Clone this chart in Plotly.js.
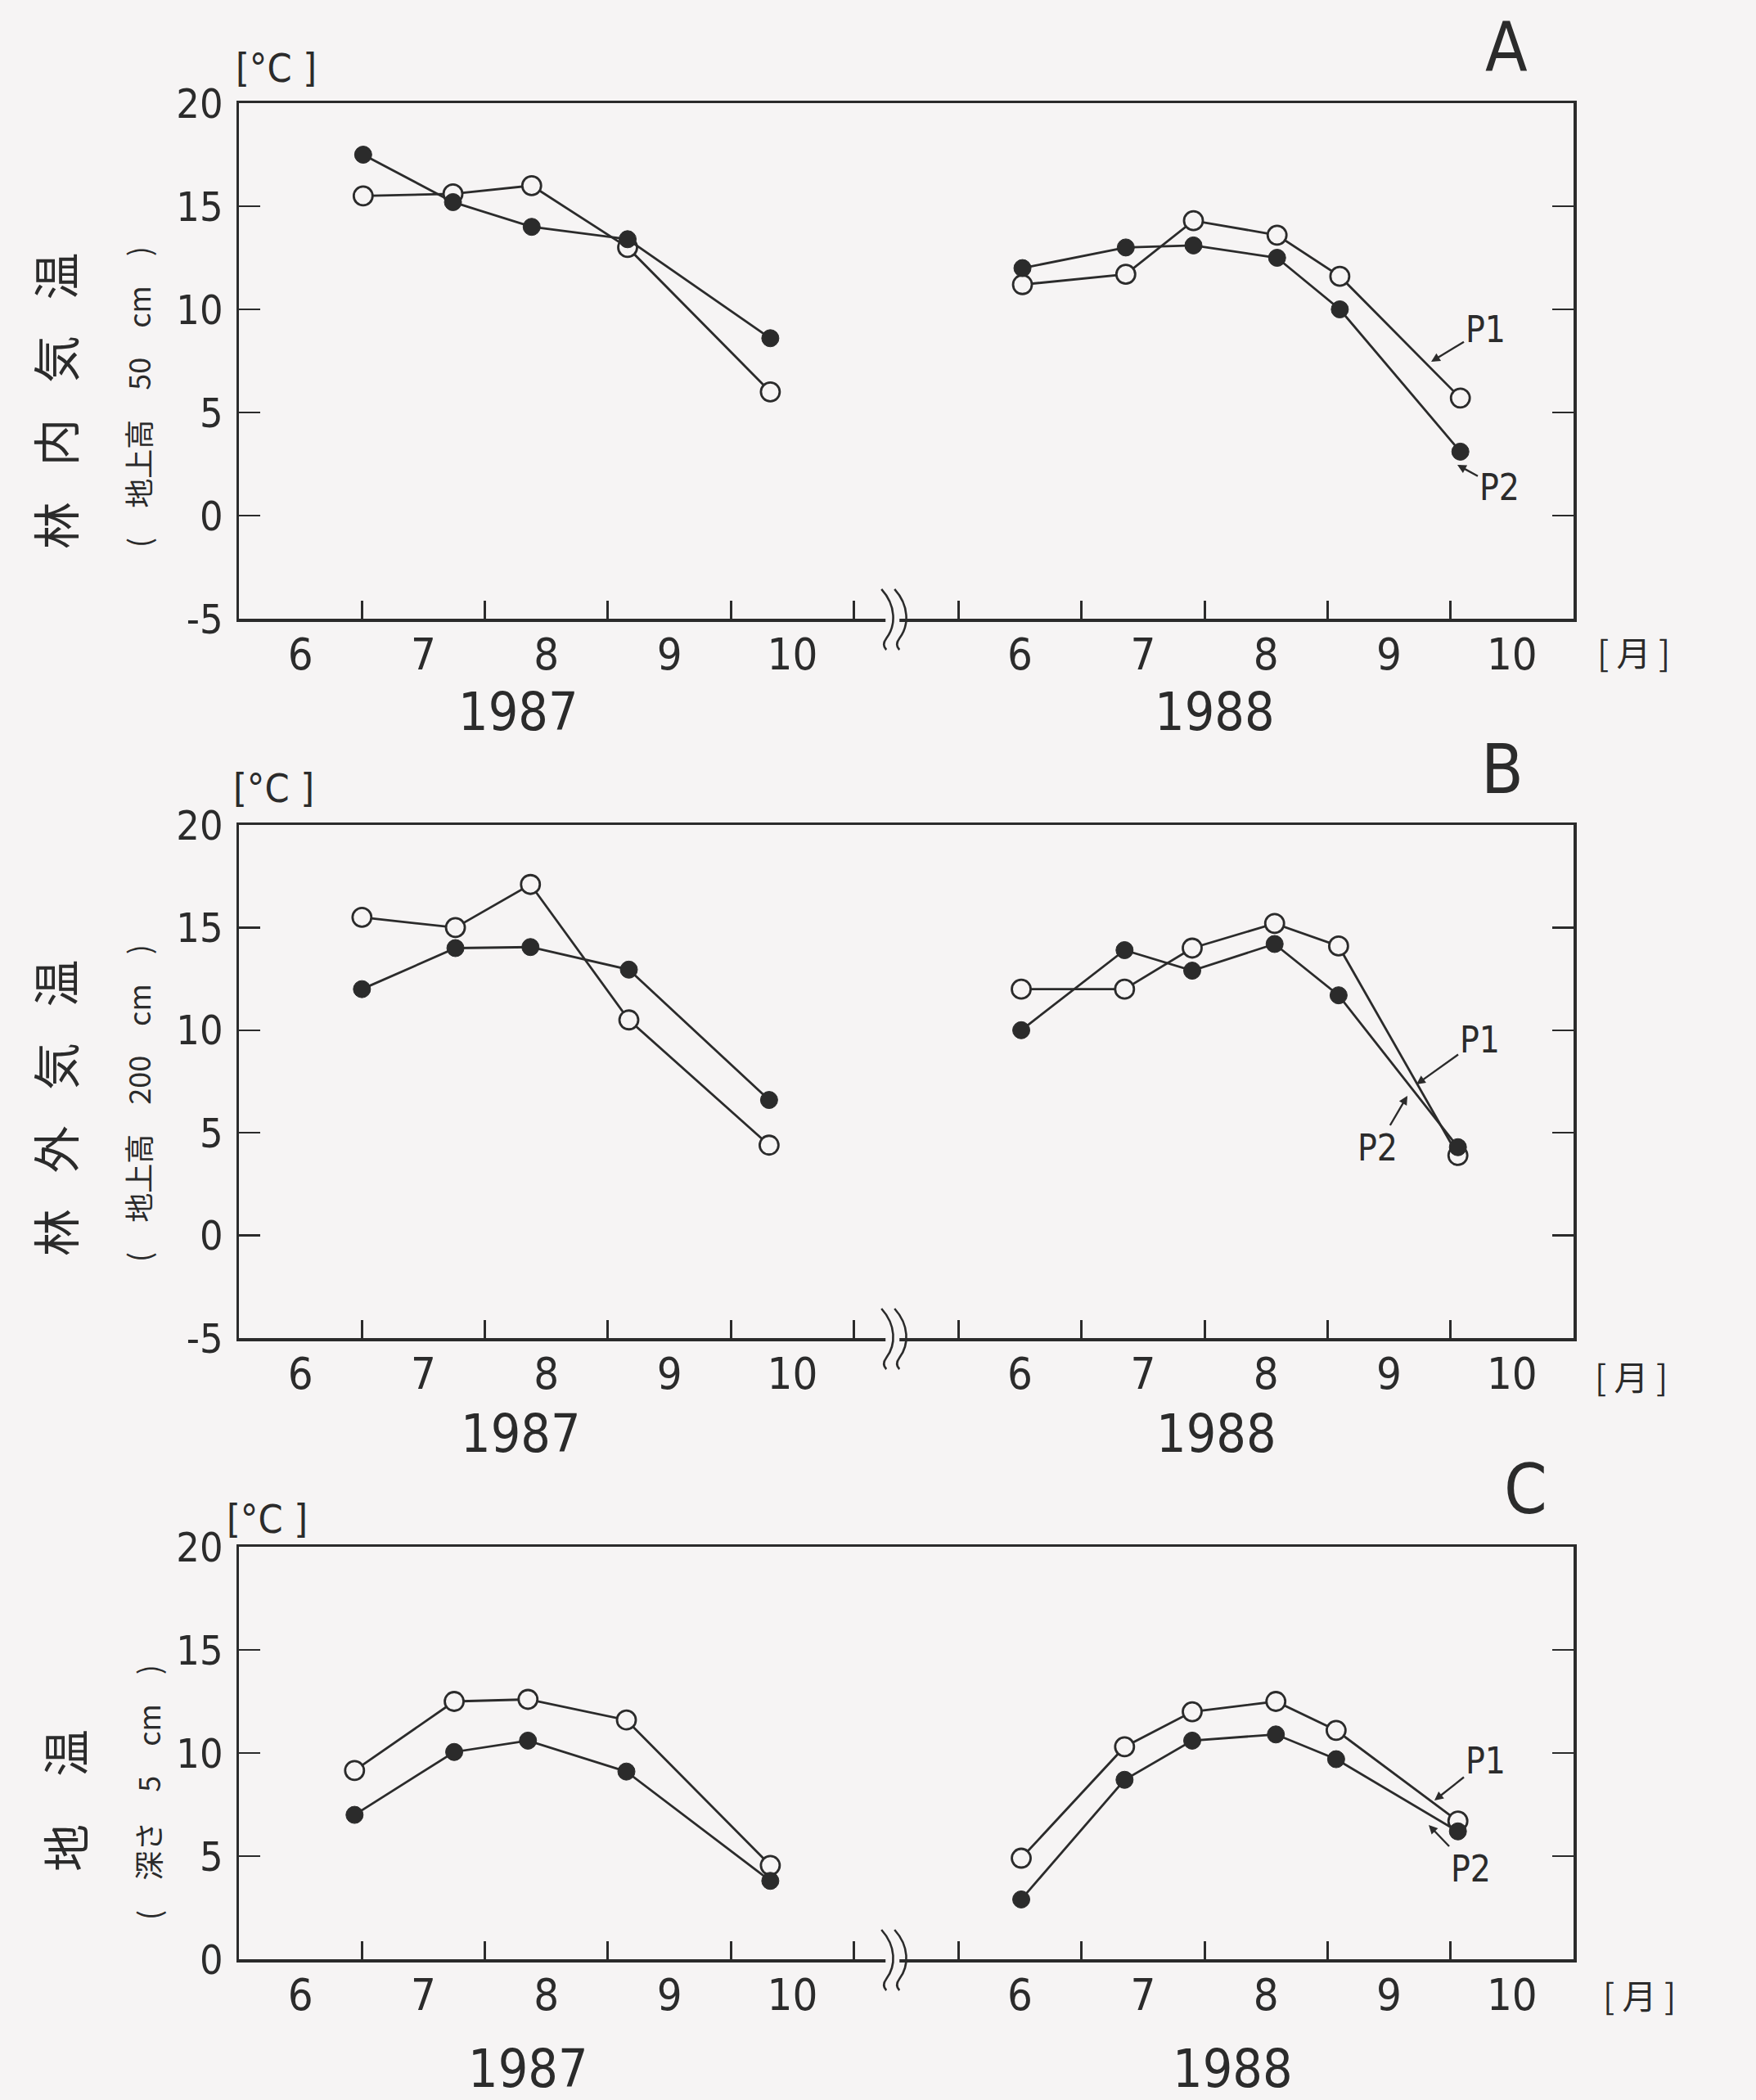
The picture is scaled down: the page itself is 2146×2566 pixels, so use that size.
<!DOCTYPE html>
<html><head><meta charset="utf-8">
<script src="https://cdn.plot.ly/plotly-3.0.1.min.js"></script>
<style>html,body{margin:0;padding:0;background:#f6f4f4;}#chart{width:2146px;height:2566px;}</style>
</head><body><div id="chart"></div>
<script>
// ---------------- DATA ----------------
// sampling dates as fractional month numbers (6.5 = mid-June)
const monthsA1987 = [7.01, 7.74, 8.38, 9.16, 10.32];
const monthsA1988 = [6.52, 7.36, 7.91, 8.59, 9.10, 10.08];
const monthsB1987 = [7.00, 7.76, 8.37, 9.17, 10.31];
const monthsB1988 = [6.51, 7.35, 7.90, 8.57, 9.09, 10.06];
const monthsC1987 = [6.94, 7.75, 8.35, 9.15, 10.32];
const monthsC1988 = [6.51, 7.35, 7.90, 8.58, 9.07, 10.06];

// A: 林内気温 (地上高 50 cm)
const tempA_P1_1987 = [15.5, 15.6, 16.0, 13.0, 6.0];
const tempA_P1_1988 = [11.2, 11.7, 14.3, 13.6, 11.6, 5.7];
const tempA_P2_1987 = [17.5, 15.2, 14.0, 13.4, 8.6];
const tempA_P2_1988 = [12.0, 13.0, 13.1, 12.5, 10.0, 3.1];
// B: 林外気温 (地上高 200 cm)
const tempB_P1_1987 = [15.5, 15.0, 17.1, 10.5, 4.4];
const tempB_P1_1988 = [12.0, 12.0, 14.0, 15.2, 14.1, 3.9];
const tempB_P2_1987 = [12.0, 14.0, 14.05, 12.95, 6.6];
const tempB_P2_1988 = [10.0, 13.9, 12.9, 14.2, 11.7, 4.3];
// C: 地温 (深さ 5 cm)
const tempC_P1_1987 = [9.15, 12.5, 12.6, 11.6, 4.55];
const tempC_P1_1988 = [4.9, 10.3, 12.0, 12.5, 11.1, 6.7];
const tempC_P2_1987 = [7.0, 10.05, 10.6, 9.1, 3.8];
const tempC_P2_1988 = [2.9, 8.7, 10.6, 10.9, 9.7, 6.2];

const monthTickText = ['6', '7', '8', '9', '10'];
const monthStarts = [6, 7, 8, 9, 10, 11];
const yearLabels = ['1987', '1988'];
const panelLetters = ['A', 'B', 'C'];
const mainTitles = ['林\u2002\u2005内\u2002\u2005気\u2002\u2005温', '林\u2002\u2005外\u2002\u2005気\u2002\u2005温', '地\u2002\u2005\u2005温'];
const subTitles = ['(　地上高　50　cm　)', '(　地上高　200　cm　)', '(　深さ　5　cm　)'];
const yTicksAB = [-5, 0, 5, 10, 15, 20];
const yTickTextAB = ['-5', '0', '5', '10', '15', '20'];
const yTicksC = [0, 5, 10, 15, 20];
const yTickTextC = ['0', '5', '10', '15', '20'];
const seriesNames = ['P1', 'P2'];

// ---------------- LAYOUT HELPERS ----------------
const W = 2146, H = 2566;
const OFF1988 = 5.85;           // axis shift of the 1988 season (broken axis)
const XRANGE = [6, 11 + OFF1988];
const BREAK_X = 11.31;
const ink = '#2b2b2b', bg = '#f6f4f4';
const latin = 'Liberation Sans Narrow, DejaVu Sans Condensed, Liberation Sans, sans-serif';
const cjk = 'Noto Sans CJK JP, sans-serif';
const PX = v => v / W, PY = v => 1 - v / H;
const plotLeft = 292, plotRight = 1923;
const xToPx = u => plotLeft + (u - XRANGE[0]) / (XRANGE[1] - XRANGE[0]) * (plotRight - plotLeft);

const panels = [
  {sfx: '', top: 126, bottom: 756, yr: [-5, 20], yt: yTicksAB, ytt: yTickTextAB,
   m87: monthsA1987, m88: monthsA1988,
   p1: [tempA_P1_1987, tempA_P1_1988], p2: [tempA_P2_1987, tempA_P2_1988],
   unit: [337, 83], letter: [1841, 58], mon: [1996, 795], yearY: 870,
   yearX: [633, 1484], title: [66, 490], sub: [168, 485],
   p1a: {tip: [1749, 442], txt: [1815, 402]}, p2a: {tip: [1781, 568], txt: [1832, 596]}},
  {sfx: '2', top: 1008, bottom: 1635, yr: [-5, 20], yt: yTicksAB, ytt: yTickTextAB,
   m87: monthsB1987, m88: monthsB1988,
   p1: [tempB_P1_1987, tempB_P1_1988], p2: [tempB_P2_1987, tempB_P2_1988],
   unit: [334, 963], letter: [1836, 940], mon: [1993, 1680], yearY: 1752,
   yearX: [636, 1486], title: [66, 1354], sub: [168, 1348],
   p1a: {tip: [1731, 1325], txt: [1808, 1270]}, p2a: {tip: [1720, 1339], txt: [1683, 1402]}},
  {sfx: '3', top: 1890, bottom: 2394, yr: [0, 20], yt: yTicksC, ytt: yTickTextC,
   m87: monthsC1987, m88: monthsC1988,
   p1: [tempC_P1_1987, tempC_P1_1988], p2: [tempC_P2_1987, tempC_P2_1988],
   unit: [326, 1856], letter: [1864, 1820], mon: [2003, 2436], yearY: 2528,
   yearX: [645, 1506], title: [78, 2200], sub: [180, 2190],
   p1a: {tip: [1753, 2200], txt: [1815, 2151]}, p2a: {tip: [1746, 2230], txt: [1797, 2283]}}
];

const traces = [];
const layout = {
  width: W, height: H, showlegend: false,
  margin: {l: 0, r: 0, t: 0, b: 0, pad: 0},
  paper_bgcolor: bg, plot_bgcolor: bg,
  annotations: [], shapes: []
};

const tickCenters = monthTickText.map((t, i) => monthStarts[i] + 0.5);
const tickVals = tickCenters.concat(tickCenters.map(v => v + OFF1988));
const tickTexts = monthTickText.concat(monthTickText);
const minorVals = monthStarts.slice(1).concat(monthStarts.slice(0, 5).map(v => v + OFF1988));

panels.forEach((p, i) => {
  const xa = 'x' + p.sfx, ya = 'y' + p.sfx;
  const xs = p.m87.concat([null], p.m88.map(m => m + OFF1988));
  // P1 open circles
  traces.push({
    type: 'scatter', mode: 'lines+markers', name: seriesNames[0], xaxis: xa, yaxis: ya,
    x: xs, y: p.p1[0].concat([null], p.p1[1]), connectgaps: false, cliponaxis: false,
    line: {color: ink, width: 2.8},
    marker: {symbol: 'circle', size: 23, color: bg, line: {color: ink, width: 2.8}}
  });
  // P2 filled circles
  traces.push({
    type: 'scatter', mode: 'lines+markers', name: seriesNames[1], xaxis: xa, yaxis: ya,
    x: xs, y: p.p2[0].concat([null], p.p2[1]), connectgaps: false, cliponaxis: false,
    line: {color: ink, width: 2.8},
    marker: {symbol: 'circle', size: 21, color: ink, line: {color: ink, width: 1}}
  });

  layout['xaxis' + p.sfx] = {
    domain: [PX(plotLeft), PX(plotRight)], range: XRANGE, anchor: ya,
    showline: true, linecolor: ink, linewidth: 3.5, mirror: true,
    showgrid: false, zeroline: false,
    tickmode: 'array', tickvals: tickVals, ticktext: tickTexts, ticks: '',
    ticklabelstandoff: -6,
    tickfont: {family: latin, size: 54, color: ink},
    minor: {tickmode: 'array', tickvals: minorVals, ticks: 'inside', ticklen: 22,
            tickwidth: 3, tickcolor: ink, showgrid: false}
  };
  layout['yaxis' + p.sfx] = {
    domain: [PY(p.bottom), PY(p.top)], range: p.yr, anchor: xa,
    showline: true, linecolor: ink, linewidth: 3.5, mirror: 'ticks',
    showgrid: false, zeroline: false,
    tickmode: 'array', tickvals: p.yt, ticktext: p.ytt,
    ticks: 'inside', ticklen: 26, tickwidth: 2.5, tickcolor: ink,
    ticklabelstandoff: 6,
    tickfont: {family: latin, size: 50, color: ink}
  };

  const ann = layout.annotations;
  const T = (text, x, y, size, family, extra) => ann.push(Object.assign({
    text: text, x: PX(x), y: PY(y), xref: 'paper', yref: 'paper', showarrow: false,
    xanchor: 'center', yanchor: 'middle', font: {family: family, size: size, color: ink}
  }, extra || {}));
  T('[°C ]', p.unit[0], p.unit[1], 48, latin);
  T(panelLetters[i], p.letter[0], p.letter[1], 84, latin);
  T('[ 月 ]', p.mon[0], p.mon[1], 42, cjk);
  T(yearLabels[0], p.yearX[0], p.yearY, 64, latin);
  T(yearLabels[1], p.yearX[1], p.yearY, 64, latin);
  T(mainTitles[i], p.title[0], p.title[1], 58, cjk, {textangle: -90});
  T(subTitles[i], p.sub[0], p.sub[1], 36, cjk, {textangle: -90});
  [p.p1a, p.p2a].forEach((a, k) => ann.push({
    text: seriesNames[k], xref: 'paper', yref: 'paper',
    x: PX(a.tip[0]), y: PY(a.tip[1]), ax: a.txt[0] - a.tip[0], ay: a.txt[1] - a.tip[1],
    showarrow: true, arrowhead: 2, arrowsize: 0.9, arrowwidth: 2.4, arrowcolor: ink,
    font: {family: latin, size: 44, color: ink}
  }));

  // axis-break symbol on the bottom axis line
  const bx = xToPx(BREAK_X), by = p.bottom;
  layout.shapes.push({type: 'rect', xref: 'paper', yref: 'paper', layer: 'above',
    x0: PX(bx - 8), x1: PX(bx + 9), y0: PY(by + 6), y1: PY(by - 6),
    fillcolor: bg, line: {width: 0}});
  [-9, 7].forEach(dx => {
    const x0 = bx + dx, y0 = by - 36;
    const pts = [[x0 - 4, y0], [x0 + 14, y0 + 20], [x0 + 14, y0 + 44], [x0 + 2, y0 + 60],
                 [x0 - 4, y0 + 68], [x0 + 2, y0 + 74]];
    const P = q => PX(q[0]).toFixed(5) + ',' + PY(q[1]).toFixed(5);
    layout.shapes.push({type: 'path', xref: 'paper', yref: 'paper', layer: 'above',
      path: 'M' + P(pts[0]) + ' C' + P(pts[1]) + ' ' + P(pts[2]) + ' ' + P(pts[3]) +
            ' Q' + P(pts[4]) + ' ' + P(pts[5]),
      line: {color: ink, width: 2.6}});
  });
});

Plotly.newPlot('chart', traces, layout, {staticPlot: true, displayModeBar: false});
</script></body></html>
